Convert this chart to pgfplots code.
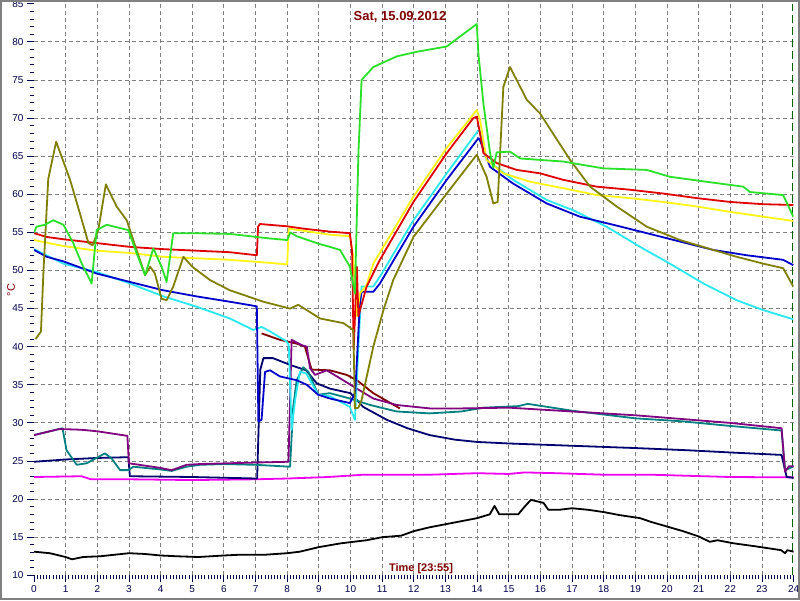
\documentclass[border=0pt]{standalone}
\usepackage{pgfplots}
\pgfplotsset{compat=1.18}
\usepackage{fontspec}
\setmainfont{Liberation Sans}
\definecolor{cNavy}{RGB}{0,0,110}
\definecolor{cTeal}{RGB}{0,128,128}
\definecolor{cPurple}{RGB}{128,0,128}
\definecolor{cMaroon}{RGB}{128,0,0}
\definecolor{cBlue}{RGB}{0,0,205}
\definecolor{cCyan}{RGB}{40,232,240}
\definecolor{cYellow}{RGB}{255,245,20}
\definecolor{cRed}{RGB}{225,0,0}
\definecolor{cGreen}{RGB}{40,225,40}
\definecolor{cOlive}{RGB}{128,128,0}
\definecolor{cMagenta}{RGB}{240,0,240}
\definecolor{cDkGreen}{RGB}{0,100,0}
\definecolor{cLabel}{RGB}{128,0,0}
\definecolor{cTick}{RGB}{0,0,80}
\begin{document}
\begin{tikzpicture}[x=1pt,y=1pt]
\useasboundingbox (0,0) rectangle (800,600);
\begin{axis}[
  at={(34pt,24.7pt)}, anchor=south west,
  scale only axis, width=759.6pt, height=571.5pt,
  xmin=0, xmax=24, ymin=10, ymax=85,
  axis x line*=bottom, axis y line*=left,
  axis line style={draw=none},
  xtick={0,1,...,24}, ytick={10,15,...,85},
  minor x tick num=9, minor y tick num=4,
  tick align=outside,
  major tick length=7pt, minor tick length=4pt,
  tick style={color=cTick, line width=0.9pt},
  /pgf/number format/assume math mode=true,
  ticklabel style={font=\fontsize{10}{12}\selectfont, text=cTick},
  every axis plot/.append style={line width=1.8pt, line join=round, mark=none},
  clip=true,
]
\pgfplotsinvokeforeach{1,...,23}{\draw[gray, dash pattern=on 4pt off 3pt, line width=0.9pt] (axis cs:#1,10) -- (axis cs:#1,85);}
\pgfplotsinvokeforeach{15,20,...,80}{\draw[gray, dash pattern=on 4pt off 3pt, line width=0.9pt] (axis cs:0,#1) -- (axis cs:24,#1);}
\draw[cDkGreen, dash pattern=on 8pt off 4pt, line width=1pt] (axis cs:23.98,10) -- (axis cs:23.98,85);

% black
\addplot[black] coordinates {(0,13.1)(0.5,12.9)(1.0,12.4)(1.2,12.1)(1.55,12.4)(2.1,12.5)(3.0,12.9)(3.5,12.8)(4.0,12.6)(4.5,12.5)(5.2,12.4)(6.0,12.6)(6.5,12.7)(7.3,12.7)(8.0,12.9)(8.4,13.1)(9.0,13.7)(9.7,14.2)(10.5,14.6)(11.0,15.0)(11.6,15.2)(12.0,15.8)(12.5,16.3)(13.0,16.7)(13.5,17.1)(14.0,17.5)(14.4,18.0)(14.55,19.1)(14.7,18.0)(15.3,18.0)(15.5,19.0)(15.7,19.9)(16.1,19.5)(16.25,18.6)(16.6,18.6)(17.0,18.8)(17.5,18.6)(18.0,18.3)(18.5,17.9)(19.15,17.5)(19.5,17.0)(20.0,16.4)(20.5,15.8)(21.0,15.1)(21.35,14.4)(21.6,14.6)(22.1,14.2)(22.8,13.8)(23.6,13.3)(23.73,12.9)(23.8,13.3)(24,13.1)};
% magenta
\addplot[cMagenta] coordinates {(0,22.9)(1.5,23.0)(1.8,22.6)(3,22.6)(5,22.5)(7,22.6)(8,22.7)(9.3,22.9)(10.4,23.2)(12.5,23.2)(14,23.4)(15,23.3)(15.5,23.5)(16.5,23.4)(18,23.2)(19.5,23.2)(22,22.9)(24,22.85)};
% navy
\addplot[cNavy] coordinates {(0,24.9)(1,25.2)(2,25.4)(2.98,25.5)(3.03,23.0)(5,22.9)(7.05,22.7)(7.15,37)(7.25,38.5)(7.55,38.5)(8.1,37.6)(8.6,36.9)(8.93,35.2)(9.35,34.5)(10.0,33.9)(10.4,32.1)(11.15,30.4)(11.8,29.3)(12.5,28.4)(13.3,27.8)(14,27.5)(15,27.3)(17,27.0)(19,26.7)(20.7,26.4)(22.1,26.1)(23.62,25.8)(23.73,23.8)(23.78,22.9)(24,22.8)};
% teal
\addplot[cTeal] coordinates {(0,28.4)(0.9,29.3)(1.03,26.4)(1.35,24.5)(1.66,24.7)(2.24,26.0)(2.45,25.35)(2.72,23.8)(2.98,23.8)(3.14,24.25)(3.98,23.9)(4.35,23.7)(4.82,24.25)(5.24,24.5)(6,24.6)(7,24.5)(8.09,24.25)(8.19,32.1)(8.3,35.6)(8.51,37.3)(8.67,36.7)(8.98,33.7)(9.35,33.9)(9.98,33.2)(10.62,32.35)(11.46,31.5)(12.5,31.25)(13.5,31.5)(14.2,32.0)(15.3,32.2)(15.6,32.5)(17,31.6)(19,30.6)(20.5,30.2)(22,29.6)(23.62,29.0)(23.73,23.8)(23.85,24.0)(24,24.3)};
% maroon
\addplot[cMaroon] coordinates {(7.19,41.75)(7.77,40.9)(8.3,40.4)(8.56,40.0)(8.77,37.0)(9.35,36.9)(9.88,36.3)(10.2,35.6)(10.72,33.9)(11.56,31.9)};
% purple
\addplot[cPurple] coordinates {(0,28.4)(0.8,29.2)(1.5,29.1)(2.0,28.9)(2.95,28.3)(3.0,24.7)(3.98,24.1)(4.35,23.8)(4.82,24.5)(5.24,24.6)(7,24.8)(8.04,24.9)(8.14,40.9)(8.46,40.2)(8.62,40.0)(8.72,37.2)(8.88,36.3)(9.25,36.9)(9.67,35.85)(10.2,34.5)(10.72,33.2)(11.46,32.35)(12.51,31.9)(13.5,31.9)(15,32.0)(17,31.5)(19,31.0)(20.5,30.5)(22,30.0)(23.62,29.3)(23.73,23.6)(23.85,24.3)(24,24.3)};
% cyan
\addplot[cCyan] coordinates {(0,52.8)(0.93,50.9)(1.98,49.8)(3.03,48.3)(4.09,46.6)(5.14,45.25)(6.19,43.7)(6.93,42.2)(7.19,42.6)(7.46,42.0)(7.98,40.7)(8.05,40.2)(8.14,29.1)(8.25,33)(8.4,36.7)(8.6,36.5)(8.98,33.7)(9.35,33.5)(9.98,32.1)(10.14,30.4)(10.25,40)(10.35,47.9)(10.72,47.9)(10.93,49.2)(11.99,56.6)(13.04,62.75)(14.04,68.4)(14.09,68.2)(14.3,64.5)(15.14,61.9)(16.2,59.25)(17.04,57.9)(18.09,55.75)(19.15,53.1)(20.09,50.9)(21.15,48.3)(22.2,46.1)(23.04,44.8)(23.99,43.6)};
% blue
\addplot[cBlue] coordinates {(0,52.7)(0.4,51.8)(0.93,51.2)(1.98,49.6)(3.03,48.5)(4.09,47.4)(5.14,46.6)(6.19,45.9)(7.04,45.3)(7.09,30.2)(7.19,30.4)(7.3,36.7)(7.46,36.9)(7.77,36.1)(8.3,35.6)(8.62,35.0)(8.98,33.7)(9.35,33.2)(9.98,32.6)(10.15,34)(10.3,46)(10.35,47.2)(10.72,47.2)(10.93,48.3)(11.99,55.75)(13.04,61.9)(14.04,67.35)(14.09,67.1)(14.41,63.6)(15.14,61.4)(16.2,58.8)(17.25,57.06)(18.3,56.0)(19.36,54.9)(20.41,53.8)(21.46,52.7)(22.52,52.0)(23.67,51.4)(23.99,50.7)};
% yellow
\addplot[cYellow] coordinates {(0,54.0)(0.93,53.2)(1.98,52.6)(3.03,52.3)(4.09,51.8)(5.14,51.6)(6.19,51.4)(7.46,51.0)(8.0,50.8)(8.05,55.5)(9.35,54.7)(9.98,54.5)(10.08,52)(10.2,44)(10.3,47)(10.5,48)(10.72,50.9)(11.99,59.7)(13.04,66.1)(13.99,71.06)(14.09,69.8)(14.3,64.5)(14.83,62.75)(15.67,61.65)(16.72,60.8)(17.78,59.9)(18.83,59.5)(19.88,59.0)(20.94,58.4)(21.99,57.7)(23.04,57.06)(23.99,56.5)};
% red
\addplot[cRed] coordinates {(0,54.9)(0.4,54.4)(0.93,54.1)(1.98,53.6)(3.03,53.1)(4.09,52.8)(5.14,52.6)(6.19,52.4)(7.04,52.0)(7.08,55.75)(7.14,56.1)(8.0,55.8)(8.5,55.5)(9.35,55.1)(9.98,54.9)(10.05,52.5)(10.1,39.6)(10.15,45)(10.2,50.5)(10.25,44)(10.3,44.8)(10.51,47.9)(10.93,51.4)(11.99,59.0)(13.04,65.4)(13.88,70.0)(13.99,70.2)(14.09,68.0)(14.2,65.4)(14.62,64.1)(15.25,63.2)(15.99,62.75)(16.72,61.9)(17.78,61.0)(18.83,60.6)(19.88,60.1)(20.94,59.5)(21.99,59.0)(23.04,58.7)(23.99,58.6)};
% olive
\addplot[cOlive] coordinates {(0.05,41.0)(0.22,42.0)(0.3,50)(0.45,62)(0.7,66.9)(1.14,61.9)(1.45,57.5)(1.72,53.6)(1.85,53.3)(2.03,55.3)(2.27,61.3)(2.61,58.4)(2.93,56.6)(3.24,52.7)(3.51,49.4)(3.67,50.5)(3.82,49.6)(4.03,46.3)(4.19,46.1)(4.4,47.9)(4.72,51.8)(5.0,50.5)(5.56,48.75)(6.19,47.4)(7.25,45.9)(8.09,45.0)(8.35,45.5)(9.04,43.7)(9.77,43.1)(10.09,42.2)(10.14,31.9)(10.25,32)(10.35,33.0)(10.72,40.0)(11.04,44.8)(11.35,48.75)(11.99,54.4)(13.04,60.1)(13.99,65.2)(14.3,62.3)(14.51,58.8)(14.65,59)(14.83,74.1)(15.04,76.7)(15.57,72.4)(15.99,70.6)(16.94,64.5)(17.57,61.0)(18.41,58.4)(19.36,55.75)(20.41,54.0)(21.46,52.7)(22.2,51.8)(23.04,50.9)(23.67,50.3)(23.99,47.9)};
% green
\addplot[cGreen] coordinates {(0,55.0)(0.08,55.75)(0.34,56.0)(0.61,56.6)(0.93,56.0)(1.24,53.6)(1.51,50.9)(1.82,48.3)(1.98,55.3)(2.3,56.0)(2.98,55.3)(3.24,52.3)(3.51,49.4)(3.77,52.9)(4.03,50.5)(4.19,48.5)(4.4,54.9)(5.03,54.9)(6.19,54.8)(7.46,54.2)(8.0,54.0)(8.1,55.0)(8.3,54.5)(9.0,53.5)(9.35,53.1)(9.67,52.7)(9.98,50.5)(10.14,47.0)(10.25,65.4)(10.35,75.0)(10.72,76.7)(11.46,78.1)(12.09,78.7)(13.04,79.4)(13.99,82.35)(14.04,78.5)(14.2,71.9)(14.41,65.4)(14.51,63.5)(14.62,65.5)(15.04,65.6)(15.36,64.7)(16.72,64.3)(17.99,63.4)(19.36,63.2)(20.09,62.3)(21.15,61.7)(22.41,61.0)(22.62,60.3)(23.67,59.9)(23.99,57.06)};
\end{axis}
\node[text=cLabel, font=\bfseries\fontsize{13}{15}\selectfont] at (400,583) {Sat, 15.09.2012};
\node[text=cLabel, font=\bfseries\fontsize{11}{13}\selectfont] at (421,31) {Time [23:55]};
\node[text=cLabel, rotate=90, font=\fontsize{11}{13}\selectfont] at (11,310) {°C};
\draw[gray, line width=2pt] (1,1) rectangle (799,599);
\end{tikzpicture}
\end{document}
